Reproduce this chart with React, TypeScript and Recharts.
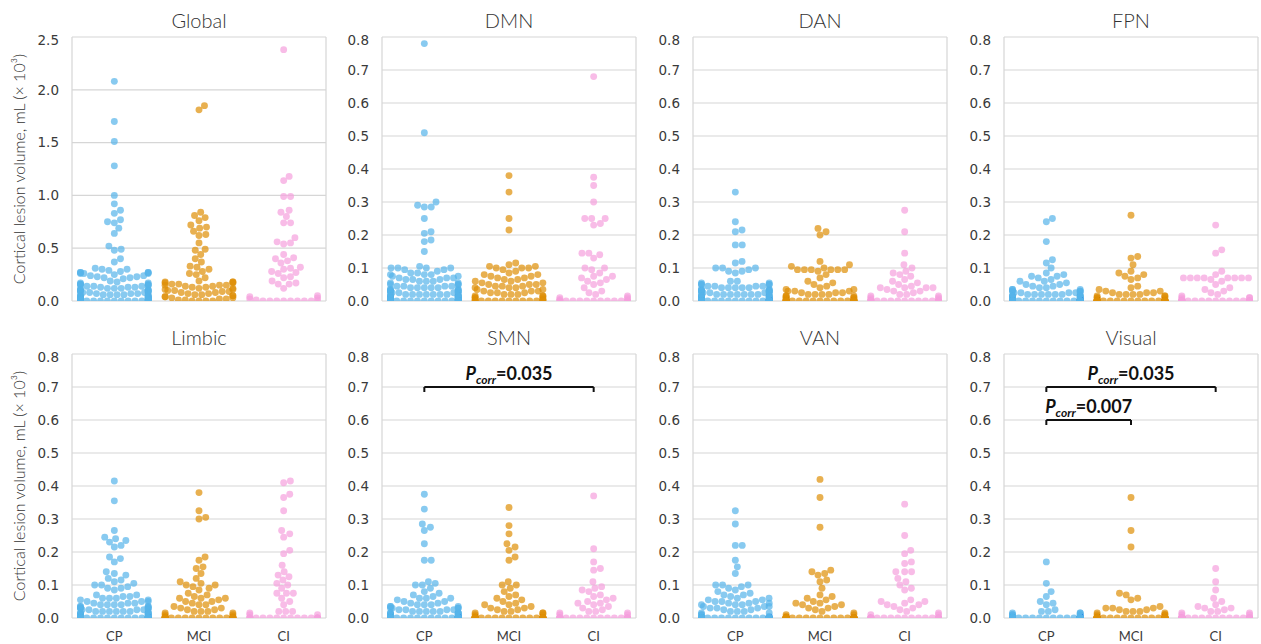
import React from "react";
import { ScatterChart, Scatter, XAxis, YAxis, CartesianGrid, ReferenceLine, ReferenceDot } from "recharts";

const groups = ["CP", "MCI", "CI"];
const groupColors = ["#56B4E9", "#DE8F05", "#F59FDD"];

const globalTicks = [0, 0.5, 1.0, 1.5, 2.0, 2.5];
const networkTicks = [0, 0.1, 0.2, 0.3, 0.4, 0.5, 0.6, 0.7, 0.8];

// values, mL (x 10^3)
const globalCP = [
  2.08, 1.7, 1.51, 1.28, 1.0, 0.92, 0.86, 0.83, 0.77, 0.75,
  0.74, 0.69, 0.64, 0.52, 0.49, 0.48, 0.4, 0.37, 0.31, 0.3,
  0.3, 0.29, 0.28, 0.27, 0.27, 0.27, 0.27, 0.26, 0.26, 0.26,
  0.25, 0.24, 0.24, 0.23, 0.23, 0.22, 0.22, 0.21, 0.19, 0.18,
  0.17, 0.17, 0.16, 0.16, 0.16, 0.15, 0.15, 0.15, 0.14, 0.14,
  0.14, 0.13, 0.13, 0.13, 0.12, 0.12, 0.12, 0.11, 0.11, 0.11,
  0.1, 0.1, 0.1, 0.09, 0.09, 0.09, 0.08, 0.08, 0.08, 0.08,
  0.07, 0.07, 0.07, 0.06, 0.06, 0.06, 0.06, 0.05, 0.05, 0.05,
  0.05, 0.04, 0.04, 0.04, 0.04, 0.03, 0.03, 0.03, 0.03, 0.02,
  0.02, 0.02, 0.02, 0.02, 0.01, 0.01, 0.01, 0.01, 0.01, 0.01,
  0, 0, 0, 0, 0, 0, 0, 0, 0, 0,
];
const globalMCI = [
  1.85, 1.81, 0.84, 0.81, 0.79, 0.76, 0.72, 0.7, 0.69, 0.66,
  0.63, 0.62, 0.55, 0.49, 0.48, 0.44, 0.4, 0.37, 0.33, 0.32,
  0.3, 0.28, 0.26, 0.25, 0.22, 0.19, 0.18, 0.18, 0.18, 0.17,
  0.17, 0.16, 0.16, 0.15, 0.15, 0.15, 0.14, 0.14, 0.13, 0.13,
  0.12, 0.12, 0.11, 0.11, 0.1, 0.1, 0.09, 0.09, 0.08, 0.08,
  0.07, 0.07, 0.06, 0.06, 0.05, 0.05, 0.04, 0.04, 0.03, 0.03,
  0.02, 0.02, 0.01, 0.01, 0, 0, 0, 0,
];
const globalCI = [
  2.38, 1.18, 1.14, 0.99, 0.99, 0.86, 0.84, 0.8, 0.74, 0.74,
  0.6, 0.56, 0.55, 0.54, 0.44, 0.41, 0.4, 0.38, 0.36, 0.32,
  0.31, 0.3, 0.28, 0.27, 0.26, 0.23, 0.22, 0.19, 0.17, 0.16,
  0.16, 0.12, 0.05, 0.04, 0.03, 0.02, 0.01, 0.01, 0, 0,
  0, 0, 0, 0, 0, 0,
];

const dmnCP = [
  0.78, 0.51, 0.3, 0.29, 0.285, 0.285, 0.25, 0.21, 0.205, 0.185,
  0.18, 0.15, 0.105, 0.1, 0.1, 0.1, 0.1, 0.095, 0.095, 0.09,
  0.085, 0.085, 0.08, 0.08, 0.08, 0.075, 0.075, 0.07, 0.07, 0.07,
  0.065, 0.065, 0.065, 0.06, 0.06, 0.06, 0.055, 0.055, 0.05, 0.05,
  0.05, 0.045, 0.045, 0.045, 0.045, 0.04, 0.04, 0.04, 0.04, 0.04,
  0.035, 0.035, 0.035, 0.035, 0.03, 0.03, 0.03, 0.03, 0.03, 0.025,
  0.025, 0.025, 0.025, 0.025, 0.025, 0.02, 0.02, 0.02, 0.02, 0.02,
  0.02, 0.02, 0.015, 0.015, 0.015, 0.015, 0.015, 0.015, 0.015, 0.01,
  0.01, 0.01, 0.01, 0.01, 0.01, 0.01, 0.01, 0.005, 0.005, 0.005,
  0.005, 0.005, 0.005, 0.005, 0.005, 0, 0, 0, 0, 0,
  0, 0, 0, 0, 0, 0, 0, 0, 0, 0,
];
const dmnMCI = [
  0.38, 0.33, 0.25, 0.215, 0.115, 0.11, 0.105, 0.105, 0.1, 0.1,
  0.1, 0.095, 0.09, 0.085, 0.08, 0.08, 0.075, 0.075, 0.07, 0.07,
  0.065, 0.065, 0.06, 0.06, 0.055, 0.055, 0.05, 0.05, 0.05, 0.045,
  0.045, 0.045, 0.04, 0.04, 0.04, 0.035, 0.035, 0.03, 0.03, 0.03,
  0.025, 0.025, 0.025, 0.02, 0.02, 0.02, 0.015, 0.015, 0.015, 0.01,
  0.01, 0.01, 0.005, 0.005, 0.005, 0, 0, 0, 0, 0,
  0, 0, 0, 0, 0, 0, 0, 0,
];
const dmnCI = [
  0.68, 0.375, 0.35, 0.3, 0.25, 0.25, 0.25, 0.235, 0.23, 0.145,
  0.145, 0.14, 0.13, 0.1, 0.1, 0.095, 0.085, 0.075, 0.075, 0.07,
  0.065, 0.06, 0.055, 0.05, 0.04, 0.03, 0.025, 0.02, 0.015, 0.01,
  0.01, 0.005, 0.005, 0, 0, 0, 0, 0, 0, 0,
  0, 0, 0, 0, 0, 0,
];

const danCP = [
  0.33, 0.24, 0.215, 0.21, 0.17, 0.17, 0.12, 0.115, 0.1, 0.1,
  0.1, 0.095, 0.09, 0.09, 0.085, 0.06, 0.06, 0.055, 0.055, 0.05,
  0.05, 0.05, 0.05, 0.045, 0.045, 0.045, 0.045, 0.04, 0.04, 0.04,
  0.04, 0.04, 0.035, 0.035, 0.035, 0.035, 0.03, 0.03, 0.03, 0.03,
  0.03, 0.03, 0.025, 0.025, 0.025, 0.025, 0.025, 0.025, 0.02, 0.02,
  0.02, 0.02, 0.02, 0.02, 0.02, 0.015, 0.015, 0.015, 0.015, 0.015,
  0.015, 0.01, 0.01, 0.01, 0.01, 0.01, 0.01, 0.01, 0.005, 0.005,
  0.005, 0.005, 0.005, 0.005, 0.005, 0, 0, 0, 0, 0,
  0, 0, 0, 0, 0, 0, 0, 0, 0, 0,
  0, 0, 0, 0, 0, 0, 0, 0, 0, 0,
  0, 0, 0, 0, 0, 0, 0, 0, 0, 0,
];
const danMCI = [
  0.22, 0.21, 0.2, 0.12, 0.11, 0.105, 0.1, 0.095, 0.095, 0.095,
  0.095, 0.095, 0.095, 0.09, 0.08, 0.07, 0.06, 0.055, 0.05, 0.045,
  0.04, 0.035, 0.035, 0.03, 0.03, 0.03, 0.025, 0.025, 0.025, 0.02,
  0.02, 0.02, 0.02, 0.015, 0.015, 0.015, 0.01, 0.01, 0.01, 0.01,
  0.005, 0.005, 0.005, 0.005, 0, 0, 0, 0, 0, 0,
  0, 0, 0, 0, 0, 0, 0, 0, 0, 0,
  0, 0, 0, 0, 0, 0, 0, 0,
];
const danCI = [
  0.275, 0.21, 0.145, 0.11, 0.1, 0.09, 0.085, 0.08, 0.075, 0.065,
  0.06, 0.055, 0.05, 0.045, 0.04, 0.04, 0.04, 0.04, 0.035, 0.03,
  0.03, 0.025, 0.02, 0.02, 0.015, 0.015, 0.01, 0.01, 0.005, 0.005,
  0, 0, 0, 0, 0, 0, 0, 0, 0, 0,
  0, 0, 0, 0, 0, 0,
];

const fpnCP = [
  0.25, 0.24, 0.18, 0.125, 0.115, 0.1, 0.085, 0.08, 0.075, 0.075,
  0.07, 0.065, 0.06, 0.06, 0.055, 0.05, 0.05, 0.045, 0.045, 0.04,
  0.04, 0.035, 0.035, 0.035, 0.03, 0.03, 0.03, 0.03, 0.025, 0.025,
  0.025, 0.025, 0.025, 0.02, 0.02, 0.02, 0.02, 0.02, 0.02, 0.015,
  0.015, 0.015, 0.015, 0.015, 0.015, 0.01, 0.01, 0.01, 0.01, 0.01,
  0.01, 0.005, 0.005, 0.005, 0.005, 0.005, 0.005, 0, 0, 0,
  0, 0, 0, 0, 0, 0, 0, 0, 0, 0,
  0, 0, 0, 0, 0, 0, 0, 0, 0, 0,
  0, 0, 0, 0, 0, 0, 0, 0, 0, 0,
  0, 0, 0, 0, 0, 0, 0, 0, 0, 0,
  0, 0, 0, 0, 0, 0, 0, 0, 0, 0,
];
const fpnMCI = [
  0.26, 0.135, 0.13, 0.11, 0.09, 0.085, 0.08, 0.075, 0.07, 0.065,
  0.045, 0.04, 0.035, 0.03, 0.03, 0.025, 0.025, 0.025, 0.02, 0.02,
  0.02, 0.02, 0.015, 0.015, 0.015, 0.01, 0.01, 0.01, 0.005, 0.005,
  0, 0, 0, 0, 0, 0, 0, 0, 0, 0,
  0, 0, 0, 0, 0, 0, 0, 0, 0, 0,
  0, 0, 0, 0, 0, 0, 0, 0, 0, 0,
  0, 0, 0, 0, 0, 0, 0, 0,
];
const fpnCI = [
  0.23, 0.155, 0.145, 0.09, 0.08, 0.07, 0.07, 0.07, 0.07, 0.07,
  0.07, 0.07, 0.07, 0.065, 0.06, 0.05, 0.04, 0.035, 0.03, 0.025,
  0.02, 0.015, 0.01, 0.01, 0.01, 0.005, 0, 0, 0, 0,
  0, 0, 0, 0, 0, 0, 0, 0, 0, 0,
  0, 0, 0, 0, 0, 0,
];

const limbicCP = [
  0.415, 0.355, 0.265, 0.245, 0.24, 0.235, 0.23, 0.22, 0.215, 0.185,
  0.18, 0.17, 0.14, 0.135, 0.13, 0.12, 0.115, 0.11, 0.105, 0.1,
  0.1, 0.095, 0.09, 0.09, 0.085, 0.07, 0.07, 0.065, 0.065, 0.06,
  0.06, 0.06, 0.055, 0.055, 0.05, 0.05, 0.05, 0.045, 0.045, 0.045,
  0.04, 0.04, 0.04, 0.04, 0.035, 0.035, 0.035, 0.035, 0.03, 0.03,
  0.03, 0.03, 0.03, 0.025, 0.025, 0.025, 0.025, 0.025, 0.02, 0.02,
  0.02, 0.02, 0.02, 0.02, 0.015, 0.015, 0.015, 0.015, 0.015, 0.01,
  0.01, 0.01, 0.01, 0.01, 0.01, 0.005, 0.005, 0.005, 0.005, 0.005,
  0, 0, 0, 0, 0, 0, 0, 0, 0, 0,
  0, 0, 0, 0, 0, 0, 0, 0, 0, 0,
  0, 0, 0, 0, 0, 0, 0, 0, 0, 0,
];
const limbicMCI = [
  0.38, 0.325, 0.305, 0.3, 0.185, 0.175, 0.155, 0.15, 0.135, 0.12,
  0.11, 0.105, 0.1, 0.1, 0.095, 0.09, 0.085, 0.075, 0.07, 0.065,
  0.06, 0.06, 0.06, 0.055, 0.05, 0.05, 0.045, 0.04, 0.04, 0.035,
  0.03, 0.03, 0.025, 0.025, 0.02, 0.02, 0.02, 0.015, 0.015, 0.01,
  0.01, 0.005, 0.005, 0, 0, 0, 0, 0, 0, 0,
  0, 0, 0, 0, 0, 0, 0, 0, 0, 0,
  0, 0, 0, 0, 0, 0, 0, 0,
];
const limbicCI = [
  0.415, 0.41, 0.375, 0.365, 0.325, 0.265, 0.255, 0.245, 0.205, 0.195,
  0.16, 0.14, 0.13, 0.125, 0.115, 0.105, 0.1, 0.09, 0.075, 0.075,
  0.075, 0.06, 0.05, 0.04, 0.02, 0.02, 0.02, 0.015, 0.01, 0.01,
  0, 0, 0, 0, 0, 0, 0, 0, 0, 0,
  0, 0, 0, 0, 0, 0,
];

const smnCP = [
  0.375, 0.33, 0.285, 0.275, 0.265, 0.225, 0.175, 0.175, 0.11, 0.105,
  0.1, 0.1, 0.09, 0.08, 0.075, 0.07, 0.065, 0.06, 0.06, 0.06,
  0.055, 0.05, 0.05, 0.045, 0.045, 0.04, 0.04, 0.04, 0.035, 0.035,
  0.035, 0.03, 0.03, 0.03, 0.03, 0.025, 0.025, 0.025, 0.025, 0.02,
  0.02, 0.02, 0.02, 0.02, 0.015, 0.015, 0.015, 0.015, 0.015, 0.01,
  0.01, 0.01, 0.01, 0.01, 0.01, 0.005, 0.005, 0.005, 0.005, 0.005,
  0, 0, 0, 0, 0, 0, 0, 0, 0, 0,
  0, 0, 0, 0, 0, 0, 0, 0, 0, 0,
  0, 0, 0, 0, 0, 0, 0, 0, 0, 0,
  0, 0, 0, 0, 0, 0, 0, 0, 0, 0,
  0, 0, 0, 0, 0, 0, 0, 0, 0, 0,
];
const smnMCI = [
  0.335, 0.28, 0.255, 0.225, 0.215, 0.205, 0.185, 0.175, 0.11, 0.1,
  0.1, 0.09, 0.08, 0.07, 0.065, 0.06, 0.055, 0.05, 0.045, 0.04,
  0.04, 0.035, 0.03, 0.03, 0.025, 0.025, 0.02, 0.02, 0.015, 0.015,
  0.015, 0.01, 0.01, 0.005, 0, 0, 0, 0, 0, 0,
  0, 0, 0, 0, 0, 0, 0, 0, 0, 0,
  0, 0, 0, 0, 0, 0, 0, 0, 0, 0,
  0, 0, 0, 0, 0, 0, 0, 0,
];
const smnCI = [
  0.37, 0.21, 0.17, 0.15, 0.145, 0.11, 0.095, 0.09, 0.085, 0.08,
  0.07, 0.065, 0.06, 0.055, 0.05, 0.045, 0.045, 0.04, 0.035, 0.03,
  0.025, 0.02, 0.02, 0.015, 0.015, 0.01, 0.01, 0, 0, 0,
  0, 0, 0, 0, 0, 0, 0, 0, 0, 0,
  0, 0, 0, 0, 0, 0,
];

const vanCP = [
  0.325, 0.285, 0.22, 0.22, 0.175, 0.155, 0.135, 0.1, 0.1, 0.1,
  0.095, 0.09, 0.085, 0.08, 0.075, 0.07, 0.07, 0.065, 0.06, 0.06,
  0.055, 0.055, 0.05, 0.05, 0.05, 0.045, 0.045, 0.045, 0.04, 0.04,
  0.04, 0.035, 0.035, 0.035, 0.03, 0.03, 0.03, 0.025, 0.025, 0.02,
  0.02, 0.02, 0.015, 0.015, 0.01, 0.01, 0.005, 0, 0, 0,
  0, 0, 0, 0, 0, 0, 0, 0, 0, 0,
  0, 0, 0, 0, 0, 0, 0, 0, 0, 0,
  0, 0, 0, 0, 0, 0, 0, 0, 0, 0,
  0, 0, 0, 0, 0, 0, 0, 0, 0, 0,
  0, 0, 0, 0, 0, 0, 0, 0, 0, 0,
  0, 0, 0, 0, 0, 0, 0, 0, 0, 0,
];
const vanMCI = [
  0.42, 0.365, 0.275, 0.145, 0.14, 0.135, 0.13, 0.115, 0.11, 0.09,
  0.07, 0.065, 0.06, 0.055, 0.05, 0.045, 0.045, 0.04, 0.04, 0.035,
  0.03, 0.03, 0.025, 0.02, 0.015, 0.01, 0.01, 0.005, 0, 0,
  0, 0, 0, 0, 0, 0, 0, 0, 0, 0,
  0, 0, 0, 0, 0, 0, 0, 0, 0, 0,
  0, 0, 0, 0, 0, 0, 0, 0, 0, 0,
  0, 0, 0, 0, 0, 0, 0, 0,
];
const vanCI = [
  0.345, 0.25, 0.205, 0.195, 0.17, 0.165, 0.14, 0.14, 0.14, 0.12,
  0.11, 0.1, 0.09, 0.085, 0.055, 0.05, 0.05, 0.045, 0.04, 0.04,
  0.035, 0.03, 0.025, 0.02, 0.015, 0.01, 0.01, 0, 0, 0,
  0, 0, 0, 0, 0, 0, 0, 0, 0, 0,
  0, 0, 0, 0, 0, 0,
];

const visualCP = [
  0.17, 0.105, 0.08, 0.065, 0.05, 0.045, 0.04, 0.025, 0.02, 0.02,
  0.015, 0.015, 0.015, 0.01, 0.01, 0.01, 0.01, 0.005, 0.005, 0.005,
  0, 0, 0, 0, 0, 0, 0, 0, 0, 0,
  0, 0, 0, 0, 0, 0, 0, 0, 0, 0,
  0, 0, 0, 0, 0, 0, 0, 0, 0, 0,
  0, 0, 0, 0, 0, 0, 0, 0, 0, 0,
  0, 0, 0, 0, 0, 0, 0, 0, 0, 0,
  0, 0, 0, 0, 0, 0, 0, 0, 0, 0,
  0, 0, 0, 0, 0, 0, 0, 0, 0, 0,
  0, 0, 0, 0, 0, 0, 0, 0, 0, 0,
  0, 0, 0, 0, 0, 0, 0, 0, 0, 0,
];
const visualMCI = [
  0.365, 0.265, 0.215, 0.075, 0.07, 0.06, 0.055, 0.035, 0.03, 0.03,
  0.03, 0.025, 0.025, 0.02, 0.02, 0.02, 0.015, 0.015, 0.01, 0.01,
  0.01, 0.005, 0.005, 0, 0, 0, 0, 0, 0, 0,
  0, 0, 0, 0, 0, 0, 0, 0, 0, 0,
  0, 0, 0, 0, 0, 0, 0, 0, 0, 0,
  0, 0, 0, 0, 0, 0, 0, 0, 0, 0,
  0, 0, 0, 0, 0, 0, 0, 0,
];
const visualCI = [
  0.15, 0.11, 0.085, 0.06, 0.05, 0.04, 0.035, 0.03, 0.03, 0.025,
  0.02, 0.02, 0.015, 0.015, 0.01, 0.01, 0, 0, 0, 0,
  0, 0, 0, 0, 0, 0, 0, 0, 0, 0,
  0, 0, 0, 0, 0, 0, 0, 0, 0, 0,
  0, 0, 0, 0, 0, 0,
];

// significance brackets: [from group, to group, height, p value]
const smnBrackets: [number, number, number, string][] = [[0, 2, 0.7, "0.035"]];
const visualBrackets: [number, number, number, string][] = [
  [0, 2, 0.7, "0.035"],
  [0, 1, 0.6, "0.007"],
];

const panels = [
  { name: "Global", yMax: 2.5, ticks: globalTicks, data: [globalCP, globalMCI, globalCI], brackets: [] },
  { name: "DMN", yMax: 0.8, ticks: networkTicks, data: [dmnCP, dmnMCI, dmnCI], brackets: [] },
  { name: "DAN", yMax: 0.8, ticks: networkTicks, data: [danCP, danMCI, danCI], brackets: [] },
  { name: "FPN", yMax: 0.8, ticks: networkTicks, data: [fpnCP, fpnMCI, fpnCI], brackets: [] },
  { name: "Limbic", yMax: 0.8, ticks: networkTicks, data: [limbicCP, limbicMCI, limbicCI], brackets: [] },
  { name: "SMN", yMax: 0.8, ticks: networkTicks, data: [smnCP, smnMCI, smnCI], brackets: smnBrackets },
  { name: "VAN", yMax: 0.8, ticks: networkTicks, data: [vanCP, vanMCI, vanCI], brackets: [] },
  { name: "Visual", yMax: 0.8, ticks: networkTicks, data: [visualCP, visualMCI, visualCI], brackets: visualBrackets },
];

const PLOT_W = 254;
const PLOT_H = 264;
const AXIS_W = 60;
const TOP_PAD = 5;
const X_H = 30;
const DOT_D = 6.9;
const COL_LEFT = [72, 382, 693, 1004];
const ROW_TOP = [37, 354];
const GRID = "#d6d6d6";
const TEXT = "#3a3a3a";

// beeswarm layout in pixels, points past the swarm width are pushed to its edge
function swarm(vals: number[], pxPerUnit: number, d: number, half: number) {
  const order = vals.map((_, i) => i).sort((a, b) => vals[a] - vals[b]);
  const placed: { x: number; y: number }[] = [];
  const out = new Array(vals.length).fill(0);
  for (const i of order) {
    const y = vals[i] * pxPerUnit;
    const near = placed.filter((p) => Math.abs(p.y - y) < d);
    const cands = [0];
    near.forEach((p) => {
      const dx = Math.sqrt(d * d - (p.y - y) ** 2);
      cands.push(p.x + dx, p.x - dx);
    });
    cands.sort((a, b) => Math.abs(a) - Math.abs(b));
    const x = cands.find((c) => near.every((p) => (p.x - c) ** 2 + (p.y - y) ** 2 >= d * d - 0.01)) ?? 0;
    placed.push({ x, y });
    out[i] = Math.max(-half, Math.min(half, x));
  }
  return out;
}

function PLabel(props: any) {
  const { cx, cy, text } = props;
  return (
    <text x={cx} y={cy} textAnchor="middle" fontFamily="Lato" fontWeight={700} fontSize={18} fill="#111">
      <tspan fontStyle="italic">P</tspan>
      <tspan fontStyle="italic" fontSize={12} dy={4}>corr</tspan>
      <tspan dy={-4}>={text}</tspan>
    </text>
  );
}

function Panel({ p, row, col }: { p: any; row: number; col: number }) {
  const pxPerUnit = PLOT_H / p.yMax;
  const catPx = PLOT_W / 3;
  const series = p.data.map((vals: number[], gi: number) => {
    const offs = swarm(vals, pxPerUnit, DOT_D, 0.4 * catPx);
    return vals.map((v, k) => ({ x: gi + offs[k] / catPx, y: v }));
  });
  const bottom = row === 1;
  const tickDrop = (p.yMax * 5) / PLOT_H;
  return (
    <>
      <div
        style={{
          position: "absolute",
          left: COL_LEFT[col],
          width: PLOT_W,
          top: ROW_TOP[row] - 29,
          textAlign: "center",
          fontFamily: "Lato",
          fontWeight: 300,
          fontSize: 20,
          lineHeight: "24px",
          color: "#333",
        }}
      >
        {p.name}
      </div>
      <div style={{ position: "absolute", left: COL_LEFT[col] - AXIS_W, top: ROW_TOP[row] - TOP_PAD }}>
        <ScatterChart
          width={AXIS_W + PLOT_W + 4}
          height={TOP_PAD + PLOT_H + X_H}
          margin={{ top: TOP_PAD, right: 4, bottom: 0, left: 0 }}
        >
          <CartesianGrid horizontal vertical={false} stroke={GRID} strokeWidth={1.2} />
          <XAxis
            type="number"
            dataKey="x"
            domain={[-0.5, 2.5]}
            ticks={[0, 1, 2]}
            allowDataOverflow
            height={X_H}
            axisLine={false}
            tickLine={false}
            tickSize={0}
            tickMargin={14}
            tickFormatter={(v) => groups[v] ?? ""}
            tick={bottom ? { fontFamily: "Lato", fontSize: 13, fill: TEXT } : false}
          />
          <YAxis
            type="number"
            dataKey="y"
            domain={[0, p.yMax]}
            ticks={p.ticks}
            allowDataOverflow
            width={AXIS_W}
            axisLine={false}
            tickLine={false}
            tickSize={0}
            tickMargin={13}
            tickFormatter={(v) => v.toFixed(1)}
            tick={{ fontFamily: "DejaVu Sans", fontSize: 13.5, fill: TEXT }}
          />
          <ReferenceLine x={-0.5} stroke={GRID} strokeWidth={1.2} />
          <ReferenceLine x={2.5} stroke={GRID} strokeWidth={1.2} />
          {series.map((pts: any[], gi: number) => (
            <Scatter
              key={groups[gi]}
              data={pts}
              isAnimationActive={false}
              shape={(s: any) => (
                <circle cx={s.cx} cy={s.cy} r={DOT_D / 2} fill={groupColors[gi]} fillOpacity={0.7} />
              )}
            />
          ))}
          {p.brackets.map(([a, b, h, txt]: [number, number, number, string], k: number) => [
            <ReferenceLine key={`h${k}`} segment={[{ x: a, y: h }, { x: b, y: h }]} stroke="#111" strokeWidth={2} />,
            <ReferenceLine key={`l${k}`} segment={[{ x: a, y: h }, { x: a, y: h - tickDrop }]} stroke="#111" strokeWidth={2} />,
            <ReferenceLine key={`r${k}`} segment={[{ x: b, y: h }, { x: b, y: h - tickDrop }]} stroke="#111" strokeWidth={2} />,
            <ReferenceDot
              key={`t${k}`}
              x={(a + b) / 2}
              y={h + (p.yMax * 7) / PLOT_H}
              r={0}
              shape={(s: any) => <PLabel cx={s.cx} cy={s.cy} text={txt} />}
            />,
          ])}
        </ScatterChart>
      </div>
    </>
  );
}

export default function App() {
  return (
    <div style={{ position: "absolute", left: 0, top: 0, width: 1261, height: 644, background: "#fff" }}>
      {[0, 1].map((row) => (
        <div
          key={row}
          style={{
            position: "absolute",
            left: 19 - 150,
            top: ROW_TOP[row] + PLOT_H / 2 - 12,
            width: 300,
            height: 24,
            lineHeight: "24px",
            textAlign: "center",
            transform: "rotate(-90deg)",
            fontFamily: "Lato",
            fontWeight: 300,
            fontSize: 16,
            color: "#333",
            whiteSpace: "nowrap",
          }}
        >
          Cortical lesion volume, mL (× 10³)
        </div>
      ))}
      {panels.map((p, i) => (
        <Panel key={p.name} p={p} row={Math.floor(i / 4)} col={i % 4} />
      ))}
    </div>
  );
}
